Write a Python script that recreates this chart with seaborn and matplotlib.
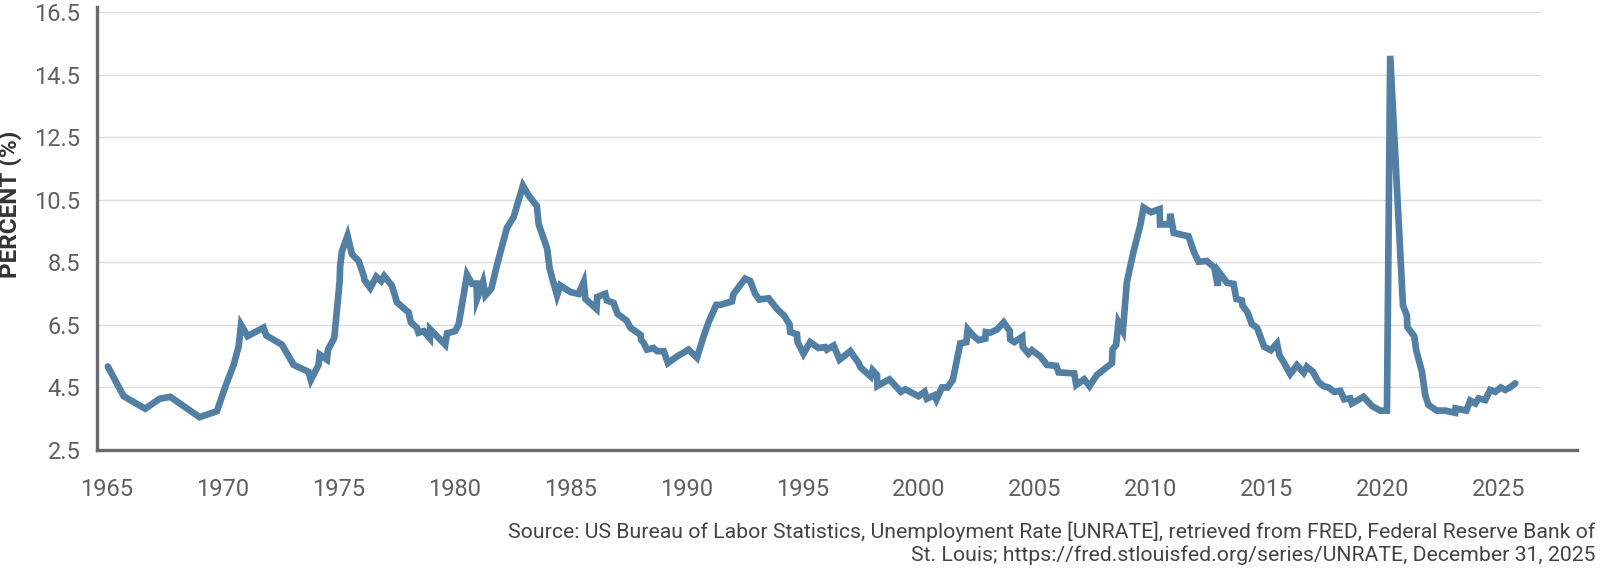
import matplotlib
matplotlib.use("Agg")
import matplotlib.pyplot as plt
import numpy as np
import pandas as pd
import seaborn as sns

# values (decimal year, percent)
years = [
    1965.04, 1965.72, 1966.65, 1967.27, 1967.73, 1968.99, 1969.74, 1970.10, 1970.46, 1970.68,
    1970.78, 1971.06, 1971.75, 1971.87, 1972.54, 1973.05, 1973.69, 1973.79, 1974.12, 1974.17,
    1974.48, 1974.53, 1974.80, 1975.03, 1975.05, 1975.13, 1975.37, 1975.56, 1975.85, 1976.08,
    1976.10, 1976.35, 1976.61, 1976.82, 1976.95, 1977.28, 1977.50, 1978.00, 1978.10, 1978.36,
    1978.43, 1978.65, 1978.92, 1978.93, 1979.58, 1979.66, 1980.01, 1980.16, 1980.52, 1980.73,
    1980.93, 1980.95, 1981.21, 1981.31, 1981.57, 1981.81, 1982.24, 1982.53, 1982.93, 1983.18,
    1983.53, 1983.61, 1983.97, 1984.08, 1984.40, 1984.54, 1984.97, 1985.33, 1985.55, 1985.62,
    1986.10, 1986.13, 1986.48, 1986.55, 1986.84, 1987.01, 1987.41, 1987.56, 1988.00, 1988.02,
    1988.13, 1988.28, 1988.56, 1988.71, 1989.00, 1989.18, 1989.57, 1990.07, 1990.43, 1990.72,
    1990.93, 1991.26, 1991.44, 1991.94, 1992.01, 1992.51, 1992.73, 1992.94, 1993.12, 1993.52,
    1993.88, 1994.19, 1994.42, 1994.45, 1994.74, 1994.77, 1995.02, 1995.31, 1995.67, 1995.96,
    1996.03, 1996.32, 1996.58, 1997.04, 1997.40, 1997.47, 1997.92, 1998.00, 1998.19, 1998.21,
    1998.73, 1999.22, 1999.41, 1999.98, 2000.24, 2000.34, 2000.66, 2000.75, 2000.99, 2001.23,
    2001.46, 2001.78, 2002.04, 2002.10, 2002.36, 2002.57, 2002.86, 2002.88, 2003.07, 2003.36,
    2003.65, 2003.91, 2003.93, 2004.11, 2004.45, 2004.47, 2004.72, 2004.87, 2005.23, 2005.52,
    2005.92, 2006.02, 2006.69, 2006.78, 2007.12, 2007.35, 2007.67, 2008.32, 2008.34, 2008.50,
    2008.60, 2008.79, 2008.96, 2009.25, 2009.47, 2009.54, 2009.68, 2010.00, 2010.37, 2010.39,
    2010.80, 2010.83, 2010.98, 2011.62, 2011.84, 2012.05, 2012.41, 2012.73, 2012.88, 2012.92,
    2013.27, 2013.56, 2013.68, 2013.92, 2013.94, 2014.16, 2014.35, 2014.57, 2014.88, 2015.17,
    2015.43, 2015.54, 2015.74, 2016.00, 2016.29, 2016.58, 2016.72, 2016.98, 2017.22, 2017.44,
    2017.65, 2017.90, 2018.16, 2018.33, 2018.59, 2018.66, 2019.16, 2019.52, 2019.88, 2020.17,
    2020.31, 2020.86, 2021.03, 2021.05, 2021.35, 2021.43, 2021.68, 2021.82, 2021.96, 2022.32,
    2022.68, 2023.11, 2023.13, 2023.59, 2023.76, 2023.98, 2024.12, 2024.41, 2024.62, 2024.84,
    2025.08, 2025.27, 2025.51, 2025.70,
]
unrate = [
    5.17, 4.22, 3.82, 4.14, 4.20, 3.55, 3.74, 4.52, 5.22, 5.82,
    6.50, 6.14, 6.41, 6.16, 5.87, 5.22, 5.00, 4.74, 5.22, 5.55,
    5.39, 5.71, 6.09, 7.90, 8.36, 8.85, 9.35, 8.76, 8.54, 8.04,
    7.93, 7.68, 8.04, 7.90, 8.06, 7.76, 7.22, 6.90, 6.58, 6.41,
    6.25, 6.30, 6.07, 6.36, 5.87, 6.23, 6.30, 6.52, 8.10, 7.82,
    7.82, 7.33, 7.87, 7.44, 7.66, 8.41, 9.60, 9.95, 10.95, 10.63,
    10.30, 9.71, 8.95, 8.30, 7.44, 7.76, 7.55, 7.49, 7.87, 7.33,
    7.01, 7.39, 7.49, 7.28, 7.20, 6.85, 6.63, 6.41, 6.18, 6.03,
    5.93, 5.71, 5.76, 5.66, 5.66, 5.28, 5.49, 5.71, 5.45, 6.14,
    6.58, 7.14, 7.14, 7.25, 7.49, 7.98, 7.90, 7.49, 7.31, 7.35,
    7.01, 6.79, 6.52, 6.27, 6.20, 5.95, 5.58, 5.95, 5.76, 5.79,
    5.71, 5.84, 5.39, 5.66, 5.28, 5.15, 4.85, 5.05, 4.90, 4.55,
    4.76, 4.36, 4.44, 4.22, 4.36, 4.14, 4.25, 4.11, 4.50, 4.50,
    4.74, 5.91, 5.95, 6.36, 6.14, 6.01, 6.06, 6.27, 6.25, 6.35,
    6.58, 6.31, 6.04, 5.95, 6.12, 5.80, 5.58, 5.69, 5.49, 5.22,
    5.19, 4.98, 4.95, 4.58, 4.76, 4.54, 4.90, 5.28, 5.71, 5.87,
    6.58, 6.31, 7.87, 8.85, 9.49, 9.69, 10.25, 10.10, 10.20, 9.71,
    9.71, 10.05, 9.44, 9.33, 8.85, 8.52, 8.54, 8.33, 7.75, 8.20,
    7.85, 7.81, 7.33, 7.28, 7.12, 6.90, 6.52, 6.41, 5.80, 5.69,
    5.91, 5.52, 5.28, 4.93, 5.21, 4.97, 5.16, 5.00, 4.68, 4.54,
    4.50, 4.36, 4.39, 4.12, 4.15, 3.99, 4.20, 3.91, 3.76, 3.76,
    15.10, 7.12, 6.80, 6.43, 6.13, 5.69, 5.00, 4.26, 3.94, 3.76,
    3.76, 3.69, 3.83, 3.76, 4.08, 3.99, 4.15, 4.10, 4.42, 4.36,
    4.50, 4.42, 4.52, 4.63,
]
year_ticks = [1965, 1970, 1975, 1980, 1985, 1990, 1995, 2000, 2005, 2010, 2015, 2020, 2025]
pct_ticks = [2.5, 4.5, 6.5, 8.5, 10.5, 12.5, 14.5, 16.5]
source_text = ("Source: US Bureau of Labor Statistics, Unemployment Rate [UNRATE], retrieved from FRED, Federal Reserve Bank of\n"
               "St. Louis; https://fred.stlouisfed.org/series/UNRATE, December 31, 2025")

df = pd.DataFrame({"year": years, "rate": unrate})

sns.set_theme(style="white")
plt.rcParams["font.family"] = ["Roboto", "DejaVu Sans"]

fig = plt.figure(figsize=(16, 5.68), dpi=100)
ax = fig.add_axes([0.0606, 0.2077, 0.925, 0.78])

x_left, x_right = 1964.57, 2028.36
ax.hlines(pct_ticks[1:], x_left, 2026.8, color="#dedede", linewidth=1.0, zorder=0)

sns.lineplot(data=df, x="year", y="rate", ax=ax, sort=False, estimator=None,
             color="#527fa4", linewidth=4.8)
for line in ax.get_lines():
    line.set_solid_joinstyle("miter")

ax.set_xlim(x_left, x_right)
ax.set_ylim(2.5, 16.66)
ax.set_xticks(year_ticks)
ax.set_yticks(pct_ticks)
ax.set_yticklabels([f"{v:.1f}" for v in pct_ticks])
ax.tick_params(axis="both", length=0, labelsize=17, colors="#606060")
ax.tick_params(axis="y", pad=12)
ax.tick_params(axis="x", pad=20)
ax.set_xlabel("")
ax.set_ylabel("PERCENT (%)", fontsize=17.5, fontweight="bold", color="#333333")
ax.yaxis.set_label_coords(-0.0505, 0.555)

for side in ["top", "right"]:
    ax.spines[side].set_visible(False)
for side in ["left", "bottom"]:
    ax.spines[side].set_color("#6b6b6f")
    ax.spines[side].set_linewidth(2.4)

fig.text(0.997, 0.082, source_text, ha="right", va="top", fontsize=15.3,
         color="#444444", linespacing=1.2)

fig.savefig("out.png", dpi=100)
plt.close(fig)
